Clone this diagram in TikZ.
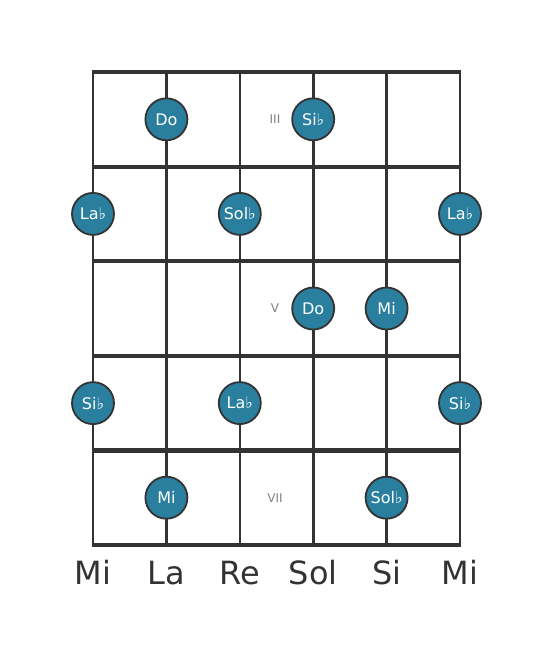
\documentclass[tikz,border=0pt]{standalone}
\usepackage{fontspec}
\setmainfont{DejaVu Sans}
\usetikzlibrary{positioning}
\definecolor{dotfill}{HTML}{2A7F9E}
\definecolor{wire}{HTML}{333333}
\tikzset{
  x=1pt,
  y=-1pt,
  string line/.style={draw=wire, line width=2.6pt},
  fret line/.style={draw=wire, line width=4.2pt},
  note dot/.style={circle, fill=dotfill, draw=wire, line width=1.8pt,
    minimum size=42pt, inner sep=0pt, text=white, font=\fontsize{16}{16}\selectfont},
  fret mark/.style={text=gray, font=\fontsize{12}{12}\selectfont},
  tuning/.style={text=wire, font=\fontsize{32}{32}\selectfont}
}

\begin{document}
\begin{tikzpicture}
\useasboundingbox (0,0) rectangle (553,656);
% strings
\foreach \s/\xx in {1/93,2/166.4,3/239.8,4/313.2,5/386.6,6/460} {
  \coordinate (s\s top) at (\xx,72);
  \coordinate (s\s bot) at (\xx,545);
  \path[string line] (s\s top) -- (s\s bot);
}
% frets
\foreach \f/\yy in {0/72,1/166.6,2/261.2,3/355.8,4/450.4,5/545} {
  \coordinate (f\f l) at (93,\yy);
  \coordinate (f\f r) at (460,\yy);
  \path[fret line] ([xshift=-1.3pt]f\f l) -- ([xshift=1.3pt]f\f r);
}
% position marks
\foreach \r/\yy/\txt in {1/119.3/III,3/308.5/V,5/497.7/VII}
  \node[fret mark] (mark\r) at (275,\yy) {\txt};
% notes
\foreach \n/\xx/\yy/\txt in {%
  do1/166.4/119.3/Do,
  sib1/313.2/119.3/Si♭,
  lab1/93/213.9/La♭,
  solb1/239.8/213.9/Sol♭,
  lab2/460/213.9/La♭,
  do2/313.2/308.5/Do,
  mi1/386.6/308.5/Mi,
  sib2/93/403.1/Si♭,
  lab3/239.8/403.1/La♭,
  sib3/460/403.1/Si♭,
  mi2/166.4/497.7/Mi,
  solb2/386.6/497.7/Sol♭%
} {
  \node[note dot] (\n) at (\xx,\yy) {\txt};
}
% open strings
\foreach \s/\txt in {1/Mi,2/La,3/Re,4/Sol,5/Si,6/Mi}
  \node[tuning, below=39pt of s\s bot, anchor=base] (open\s) {\txt};
\end{tikzpicture}
\end{document}
